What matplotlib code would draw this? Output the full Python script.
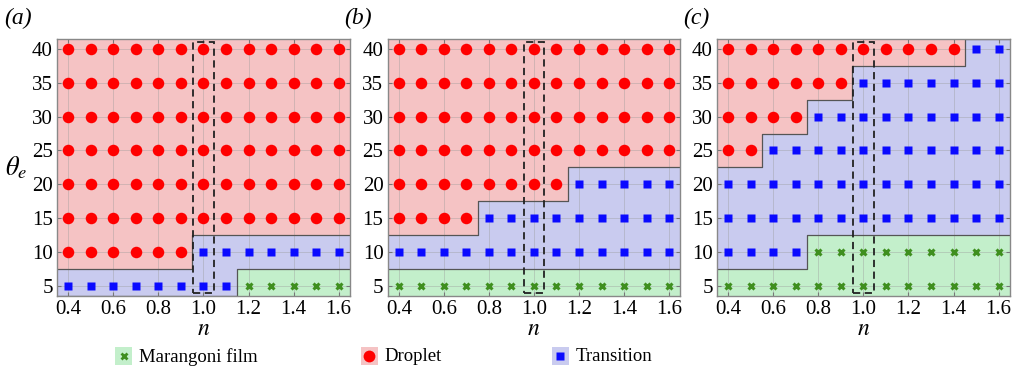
import numpy as np
import matplotlib.pyplot as plt
from matplotlib.patches import Rectangle
from matplotlib.lines import Line2D

plt.rcParams['font.family'] = ['Liberation Serif', 'DejaVu Serif']
plt.rcParams['mathtext.fontset'] = 'stix'

# =========================
# DATA
# =========================

n_vals = [0.4, 0.5, 0.6, 0.7, 0.8, 0.9, 1.0, 1.1, 1.2, 1.3, 1.4, 1.5, 1.6]
theta_vals = [5, 10, 15, 20, 25, 30, 35, 40]
x_ticks = [0.4, 0.6, 0.8, 1.0, 1.2, 1.4, 1.6]
x_ticklabels = ["0.4", "0.6", "0.8", "1.0", "1.2", "1.4", "1.6"]
panel_labels = ["(a)", "(b)", "(c)"]

# highest theta that is still a Marangoni film (0 = none), per n
film_top_a = [0, 0, 0, 0, 0, 0, 0, 0, 5, 5, 5, 5, 5]
film_top_b = [5, 5, 5, 5, 5, 5, 5, 5, 5, 5, 5, 5, 5]
film_top_c = [5, 5, 5, 5, 10, 10, 10, 10, 10, 10, 10, 10, 10]

# lowest theta that gives a droplet (45 = none), per n
drop_start_a = [10, 10, 10, 10, 10, 10, 15, 15, 15, 15, 15, 15, 15]
drop_start_b = [15, 15, 15, 15, 20, 20, 20, 20, 25, 25, 25, 25, 25]
drop_start_c = [25, 25, 30, 30, 35, 35, 40, 40, 40, 40, 40, 45, 45]

panels = [
    (film_top_a, drop_start_a),
    (film_top_b, drop_start_b),
    (film_top_c, drop_start_c),
]

# =========================
# STYLE
# =========================

c_drop = "#f5c3c4"
c_trans = "#c9cbef"
c_film = "#c3efcb"
edge = "#555555"

xlim = (0.35, 1.65)
ylim = (3.5, 41.5)

axes_pos = [
    [0.056, 0.209, 0.287, 0.687],
    [0.380, 0.209, 0.287, 0.687],
    [0.703, 0.209, 0.287, 0.687],
]
label_x = [-0.18, -0.147, -0.116]

fig = plt.figure(figsize=(10.2, 3.74), dpi=100)

n_arr = np.array(n_vals)
x_edges = np.append(n_arr - 0.05, n_arr[-1] + 0.05)
x_edges[0] = xlim[0]
x_edges[-1] = xlim[1]

for k, (film_top, drop_start) in enumerate(panels):
    ax = fig.add_axes(axes_pos[k])

    film_line = np.array(film_top, dtype=float) + 2.5
    film_line[np.array(film_top) == 0] = ylim[0]
    drop_line = np.array(drop_start, dtype=float) - 2.5
    drop_line = np.minimum(drop_line, ylim[1])

    fl = np.append(film_line, film_line[-1])
    dl = np.append(drop_line, drop_line[-1])

    ax.fill_between(x_edges, ylim[0], fl, step="post", color=c_film, lw=0, zorder=0.2)
    ax.fill_between(x_edges, fl, dl, step="post", color=c_trans, lw=0, zorder=0.2)
    ax.fill_between(x_edges, dl, ylim[1], step="post", color=c_drop, lw=0, zorder=0.2)
    ax.step(x_edges, fl, where="post", color=edge, lw=0.9, zorder=1)
    ax.step(x_edges, dl, where="post", color=edge, lw=0.9, zorder=1)

    # points
    for i, n in enumerate(n_vals):
        for th in theta_vals:
            if th <= film_top[i]:
                ax.plot(n, th, marker="x", color="#3f8f1f", ms=5, mew=2.2, zorder=3)
            elif th >= drop_start[i]:
                ax.plot(n, th, marker="o", color="#ff0000", ms=8.3, mec="none", zorder=3)
            else:
                ax.plot(n, th, marker="s", color="#0a0aff", ms=6, mec="none", zorder=3)

    # dashed box around n = 1
    ax.add_patch(Rectangle((0.955, 3.85), 0.09, 37.25, fill=False,
                           ec="#222222", ls=(0, (4, 2.5)), lw=1.3, zorder=5))

    ax.set_xlim(*xlim)
    ax.set_ylim(*ylim)
    ax.set_xticks(x_ticks)
    ax.set_xticklabels(x_ticklabels)
    ax.set_yticks(theta_vals)
    ax.set_yticklabels([str(t) for t in theta_vals])
    ax.set_axisbelow(True)
    ax.grid(True, color="#999999", lw=0.6, alpha=0.45)
    ax.tick_params(direction="in", top=True, right=True, length=3,
                   color="#777777", labelsize=15, pad=3)
    for s in ax.spines.values():
        s.set_color("#888888")
        s.set_linewidth(1.0)

    ax.set_xlabel("$n$", fontsize=17, labelpad=0)
    if k == 0:
        ax.set_ylabel(r"$\theta_e$", fontsize=19, rotation=0,
                      ha="center", va="center")
        ax.yaxis.set_label_coords(-0.14, 0.5)
    ax.text(label_x[k], 1.08, panel_labels[k],
            transform=ax.transAxes, fontsize=17, style="italic",
            ha="left", va="center")

# =========================
# LEGEND
# =========================

items = [
    (0.113, "x", "#3f8f1f", c_film, "Marangoni film"),
    (0.354, "o", "#ff0000", c_drop, "Droplet"),
    (0.541, "s", "#0a0aff", c_trans, "Transition"),
]
for x0, mk, mc, bg, label in items:
    fig.patches.append(Rectangle((x0, 0.024), 0.0165, 0.047,
                                 transform=fig.transFigure,
                                 color=bg, lw=0))
    if mk == "x":
        h = Line2D([x0 + 0.00825], [0.0475], marker=mk, color=mc, ms=5,
                   mew=2, transform=fig.transFigure)
    elif mk == "o":
        h = Line2D([x0 + 0.00825], [0.0475], marker=mk, color=mc, ms=8.5,
                   mec="none", transform=fig.transFigure)
    else:
        h = Line2D([x0 + 0.00825], [0.0475], marker=mk, color=mc, ms=6,
                   mec="none", transform=fig.transFigure)
    fig.lines.append(h)
    fig.text(x0 + 0.023, 0.046, label, fontsize=13.5, va="center", ha="left")

fig.savefig("out.png", dpi=100)
